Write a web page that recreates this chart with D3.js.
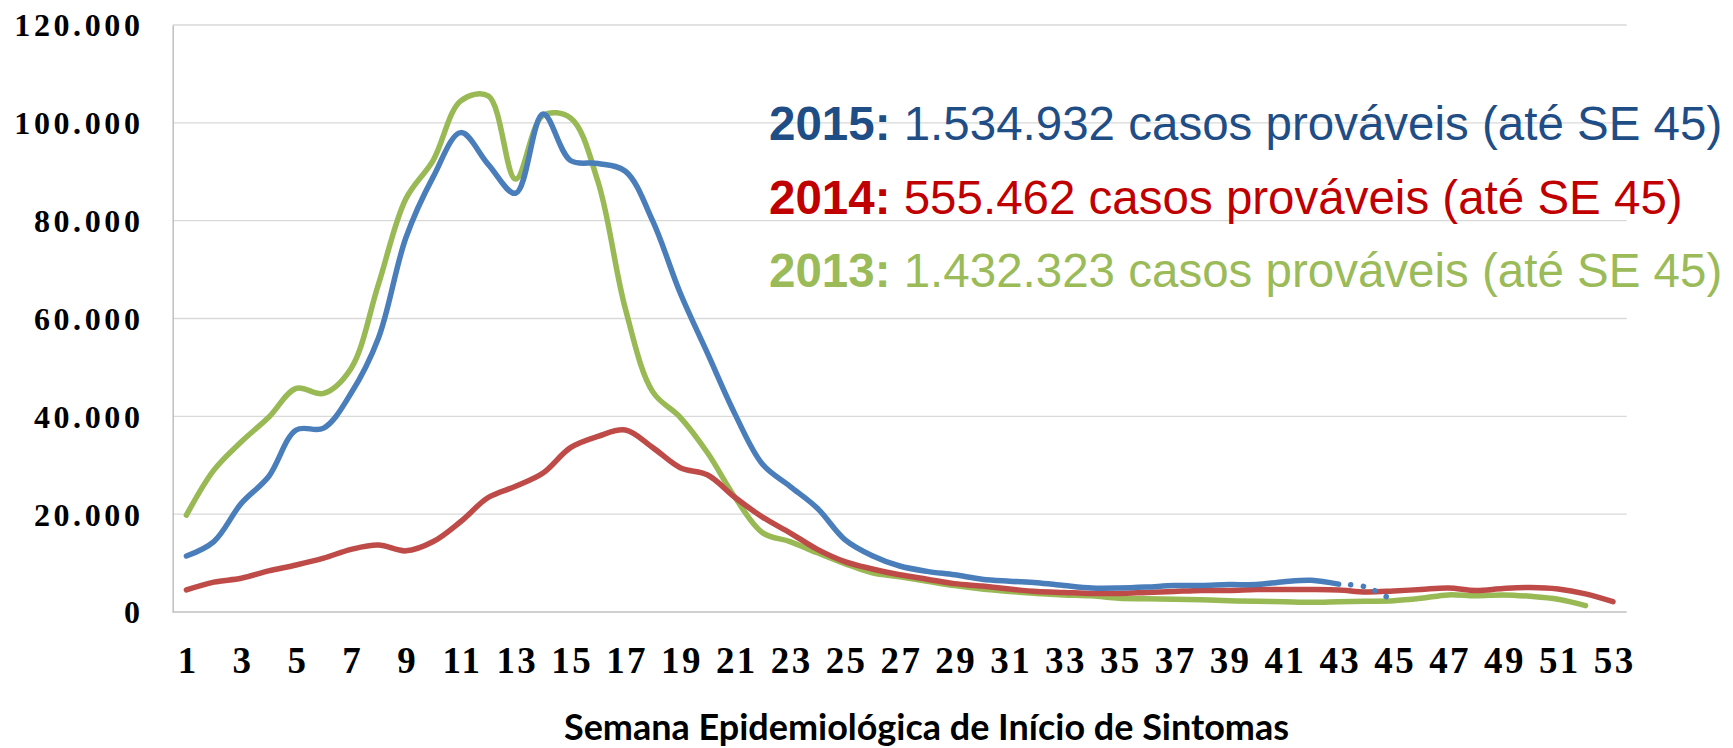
<!DOCTYPE html>
<html>
<head>
<meta charset="utf-8">
<script src="https://cdn.jsdelivr.net/npm/d3@7"></script>
<style>
  html, body { margin: 0; padding: 0; background: #ffffff; }
</style>
</head>
<body>
<svg id="chart" width="1733" height="748"></svg>
<script>
// ---------------- DATA ----------------
const weeks = [1,2,3,4,5,6,7,8,9,10,11,12,13,14,15,16,17,18,19,20,21,22,23,24,25,26,27,
  28,29,30,31,32,33,34,35,36,37,38,39,40,41,42,43,44,45,46,47,48,49,50,51,52,53];

const xTickLabels = [1,3,5,7,9,11,13,15,17,19,21,23,25,27,29,31,33,35,37,39,41,43,45,47,49,51,53];
const yTickValues = [0, 20000, 40000, 60000, 80000, 100000, 120000];

// 2015 (weeks 1-45; weeks 44-45 provisional, drawn dotted)
const cases2015 = [11450,14400,22200,27700,37200,37600,44700,56000,76500,89000,98000,91500,
  85600,101800,92300,91700,90100,79900,65200,52800,40400,30200,25700,21200,14800,11500,9400,
  8300,7600,6700,6300,6000,5400,4900,4900,5100,5400,5400,5600,5600,6200,6500,5700,5100,2300];

// 2014 (weeks 1-53)
const cases2014 = [4500,6100,6900,8400,9600,11000,12800,13700,12500,14400,18500,23400,25700,
  28400,33600,35900,37200,33600,29500,28000,23400,19400,16200,12800,10300,8800,7600,6700,5800,
  5300,4700,4200,4000,3800,3800,4000,4200,4400,4400,4600,4600,4600,4500,4100,4300,4600,4900,
  4400,4800,5000,4700,3700,2100];

// 2013 (weeks 1-52)
const cases2013 = [19800,29000,34800,39800,45700,44700,49800,67000,84500,92400,104500,105500,
  88500,101500,101000,88000,62000,45000,39800,32500,23400,16200,14400,12100,9900,8000,7200,
  6300,5400,4700,4200,3800,3500,3300,2800,2700,2600,2500,2300,2200,2100,2000,2100,2200,2300,
  2800,3500,3300,3500,3200,2600,1300];

const solidUntilWeek2015 = 43;

const legendYears = ["2015:", "2014:", "2013:"];
const legendTexts = [" 1.534.932 casos prováveis (até SE 45)",
                     " 555.462 casos prováveis (até SE 45)",
                     " 1.432.323 casos prováveis (até SE 45)"];
const xAxisTitle = "Semana Epidemiológica de Início de Sintomas";

// ---------------- STYLE ----------------
const lineColors = { y2015: "#4A7EBB", y2014: "#BE4B48", y2013: "#98B954" };
const legendColors = ["#1F4E86", "#C00000", "#9BBB59"];

// ---------------- LAYOUT ----------------
const plot = { left: 172.7, right: 1626.7, top: 25, bottom: 612 };

const svg = d3.select("#chart");
svg.append("rect").attr("width", 1733).attr("height", 748).attr("fill", "#ffffff");

const x = d3.scalePoint().domain(weeks).range([plot.left, plot.right]).padding(0.5);
const y = d3.scaleLinear().domain([0, 120000]).range([plot.bottom, plot.top]);

const ptBR = d3.formatLocale({ decimal: ",", thousands: ".", grouping: [3], currency: ["R$", ""] });
const fmt = ptBR.format(",");

// gridlines
svg.append("g")
  .selectAll("line")
  .data(yTickValues.filter(v => v > 0))
  .join("line")
  .attr("x1", plot.left).attr("x2", plot.right)
  .attr("y1", d => y(d)).attr("y2", d => y(d))
  .attr("stroke", "#D9D9D9").attr("stroke-width", 1.3);

// y axis
const yAxis = d3.axisLeft(y).tickValues(yTickValues).tickFormat(fmt).tickSize(0).tickPadding(0);
const gy = svg.append("g").attr("transform", `translate(${plot.left},0)`).call(yAxis);
gy.select(".domain").attr("stroke", "#BFBFBF").attr("stroke-width", 1.5);
gy.selectAll("text")
  .attr("x", 143.5 - plot.left)
  .attr("dy", "0.34em")
  .attr("font-family", "'Liberation Serif', serif")
  .attr("font-weight", "bold")
  .attr("font-size", 32)
  .attr("letter-spacing", 3.6)
  .attr("fill", "#000");

// x axis
const xAxis = d3.axisBottom(x).tickValues(xTickLabels).tickSize(0).tickPadding(0);
const gx = svg.append("g").attr("transform", `translate(0,${plot.bottom})`).call(xAxis);
gx.select(".domain").attr("stroke", "#BFBFBF").attr("stroke-width", 1.5)
  .attr("d", `M${plot.left},0H${plot.right}`);
gx.selectAll("text")
  .attr("y", 61)
  .attr("dy", 0)
  .attr("dx", 1.2)
  .attr("font-family", "'Liberation Serif', serif")
  .attr("font-weight", "bold")
  .attr("font-size", 37)
  .attr("letter-spacing", 2.4)
  .attr("fill", "#000");

// lines
const line = d3.line()
  .x(d => x(d.week))
  .y(d => y(d.value))
  .curve(d3.curveCatmullRom.alpha(0.5));

const toPts = arr => arr.map((v, i) => ({ week: weeks[i], value: v }));

const pts2015 = toPts(cases2015);
const pts2014 = toPts(cases2014);
const pts2013 = toPts(cases2013);

const lw = 5.5;

svg.append("path").datum(pts2013).attr("d", line)
  .attr("fill", "none").attr("stroke", lineColors.y2013).attr("stroke-width", lw)
  .attr("stroke-linecap", "round").attr("stroke-linejoin", "round");

svg.append("path").datum(pts2014).attr("d", line)
  .attr("fill", "none").attr("stroke", lineColors.y2014).attr("stroke-width", lw)
  .attr("stroke-linecap", "round").attr("stroke-linejoin", "round");

svg.append("path").datum(pts2015.filter(d => d.week <= solidUntilWeek2015)).attr("d", line)
  .attr("fill", "none").attr("stroke", lineColors.y2015).attr("stroke-width", lw)
  .attr("stroke-linecap", "round").attr("stroke-linejoin", "round");

svg.append("path").datum(pts2015.filter(d => d.week >= solidUntilWeek2015)).attr("d", line)
  .attr("fill", "none").attr("stroke", lineColors.y2015).attr("stroke-width", lw)
  .attr("stroke-linecap", "round").attr("stroke-dasharray", "0.1 12.5")
  .attr("stroke-dashoffset", -12);

// legend text
const legend = svg.append("g");
legendYears.forEach((yr, i) => {
  const t = legend.append("text")
    .attr("x", 769)
    .attr("y", 140 + i * 73.5)
    .attr("font-family", "'Liberation Sans', Arial, sans-serif")
    .attr("font-size", 47.5)
    .attr("fill", legendColors[i]);
  t.append("tspan").attr("font-weight", "bold").text(yr);
  t.append("tspan").text(legendTexts[i]);
});

// x axis title
svg.append("text")
  .attr("x", 926.5)
  .attr("y", 740)
  .attr("text-anchor", "middle")
  .attr("font-family", "Lato, 'Open Sans', sans-serif")
  .attr("font-weight", "bold")
  .attr("font-size", 36)
  .attr("textLength", 725)
  .attr("lengthAdjust", "spacingAndGlyphs")
  .attr("fill", "#000")
  .text(xAxisTitle);
</script>
</body>
</html>
